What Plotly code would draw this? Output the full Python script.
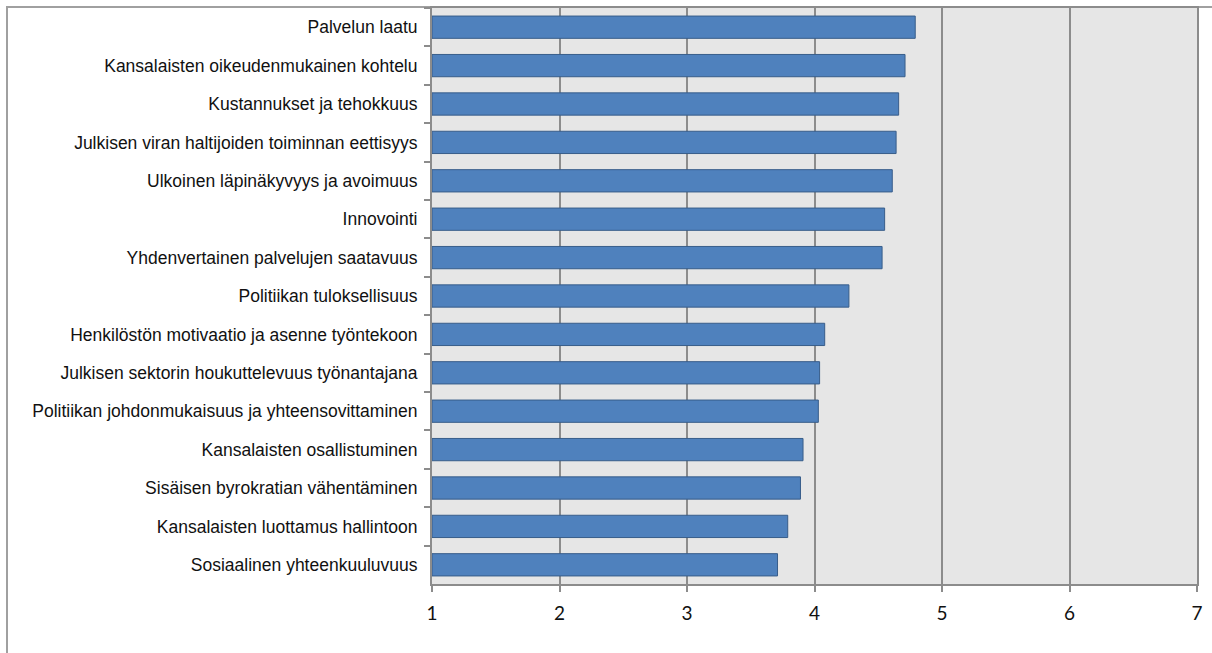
import plotly.graph_objects as go

# Categories listed top to bottom
categories = [
    "Palvelun laatu",
    "Kansalaisten oikeudenmukainen kohtelu",
    "Kustannukset ja tehokkuus",
    "Julkisen viran haltijoiden toiminnan eettisyys",
    "Ulkoinen läpinäkyvyys ja avoimuus",
    "Innovointi",
    "Yhdenvertainen palvelujen saatavuus",
    "Politiikan tuloksellisuus",
    "Henkilöstön motivaatio ja asenne työntekoon",
    "Julkisen sektorin houkuttelevuus työnantajana",
    "Politiikan johdonmukaisuus ja yhteensovittaminen",
    "Kansalaisten osallistuminen",
    "Sisäisen byrokratian vähentäminen",
    "Kansalaisten luottamus hallintoon",
    "Sosiaalinen yhteenkuuluvuus",
]
values = [4.79, 4.71, 4.66, 4.64, 4.61, 4.55, 4.53, 4.27, 4.08, 4.04, 4.03, 3.91, 3.89, 3.79, 3.71]
x_ticks = [1, 2, 3, 4, 5, 6, 7]

W, H = 1212, 653
L, R, T, B = 432, 1197, 6, 584

fig = go.Figure(
    go.Bar(
        x=[v - 1 for v in values],
        base=1,
        y=categories,
        orientation="h",
        marker=dict(color="#4f81bd", line=dict(color="#385d8a", width=1)),
        width=0.58,
        hoverinfo="skip",
    )
)

grid = "#8c8c8c"
fig.update_layout(
    width=W,
    height=H,
    margin=dict(l=L, r=W - R, t=T, b=H - B),
    paper_bgcolor="white",
    plot_bgcolor="#e6e6e6",
    showlegend=False,
    xaxis=dict(
        range=[1, 7],
        tickvals=x_ticks,
        ticktext=[str(t) for t in x_ticks],
        showgrid=True,
        gridcolor=grid,
        gridwidth=2,
        zeroline=False,
        showline=True,
        mirror=True,
        linecolor=grid,
        linewidth=2,
        ticks="outside",
        ticklen=6,
        tickwidth=1.5,
        tickcolor=grid,
        ticklabelstandoff=5,
        tickfont=dict(family="Lato", size=19, color="#111111"),
    ),
    yaxis=dict(
        type="category",
        categoryorder="array",
        categoryarray=categories,
        autorange="reversed",
        showgrid=False,
        showline=True,
        mirror=True,
        linecolor=grid,
        linewidth=2,
        ticks="outside",
        tickson="boundaries",
        ticklen=6,
        tickwidth=1.5,
        tickcolor=grid,
        ticklabelstandoff=9,
        tickfont=dict(family="Liberation Sans", size=17.5, color="#111111"),
    ),
)

# Outer chart frame
pw, ph = R - L, B - T
fig.add_shape(
    type="rect",
    xref="paper",
    yref="paper",
    x0=(7 - L) / pw,
    x1=(W + 10 - L) / pw,
    y0=(B - (H + 10)) / ph,
    y1=(B - 5) / ph,
    line=dict(color="#a0a0a0", width=2),
    fillcolor="rgba(0,0,0,0)",
    layer="below",
)

fig.write_html("out.html")
